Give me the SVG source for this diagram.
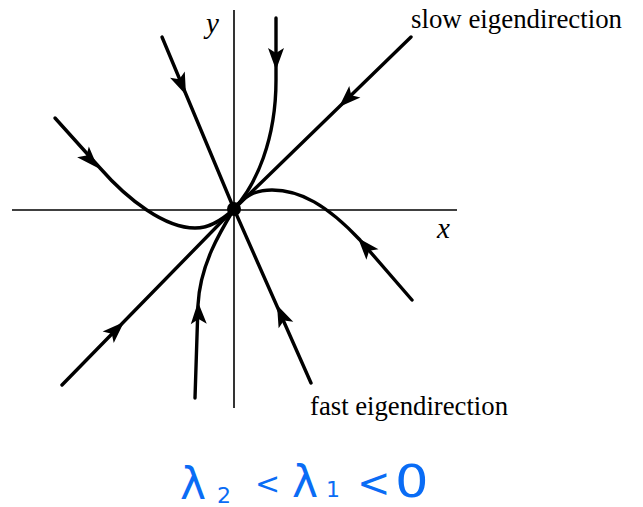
<svg xmlns="http://www.w3.org/2000/svg" width="643" height="507" viewBox="0 0 643 507">
<style>
.axis{stroke:#000;stroke-width:1.6;fill:none}
.traj{stroke:#000;stroke-width:3.4;fill:none;stroke-linecap:round;stroke-linejoin:round}
.lbl{font-family:"Liberation Serif","Times New Roman",serif;font-size:27px;fill:#000}
.var{font-family:"Liberation Serif","Times New Roman",serif;font-size:29px;font-style:italic;fill:#000}
.hand{font-family:"DejaVu Sans","Noto Sans",sans-serif;fill:#0a6cf5}
</style>
<defs>
<path id="ah" d="M0,0 L-22,-8 L-17,0 L-22,8 Z" fill="#000"/>
</defs>
<rect width="643" height="507" fill="#fff"/>
<g id="axes">
<line class="axis" x1="12" y1="210" x2="457" y2="210"/>
<line class="axis" x1="234" y1="10" x2="234" y2="408"/>
<text class="var" x="206" y="33">y</text>
<text class="var" x="437" y="238">x</text>
</g>
<g id="connectors">
<line class="traj" x1="411" y1="37" x2="234" y2="209"/>
<line class="traj" x1="62" y1="385" x2="234" y2="209"/>
<line class="traj" x1="162" y1="37" x2="234" y2="209"/>
<line class="traj" x1="311" y1="383" x2="234" y2="209"/>
<path class="traj" d="M55,118 L100,168 C128,200 165,228 195,228 C210,228 222,220 234,209"/>
<path class="traj" d="M276,18 L276,80 C276,140 256,185 234,209"/>
<path class="traj" d="M234,209 C244,196 255,190 272,190 C300,190 327,205 360,240 L412,300"/>
<path class="traj" d="M234,209 C220,232 200,265 198,305 L195,398"/>
<use href="#ah" transform="translate(98,168) rotate(47)"/>
<use href="#ah" transform="translate(186,95) rotate(67)"/>
<use href="#ah" transform="translate(276,70) rotate(90)"/>
<use href="#ah" transform="translate(339,107) rotate(136)"/>
<use href="#ah" transform="translate(358,238) rotate(-131)"/>
<use href="#ah" transform="translate(124,322) rotate(-44)"/>
<use href="#ah" transform="translate(198,302) rotate(-92)"/>
<use href="#ah" transform="translate(277,305) rotate(-114)"/>
</g>
<g id="origin">
<circle cx="234" cy="209" r="7" fill="#000"/>
</g>
<g id="slow-label">
<text class="lbl" x="411" y="28" textLength="211" lengthAdjust="spacingAndGlyphs">slow eigendirection</text>
</g>
<g id="fast-label">
<text class="lbl" x="310" y="415" textLength="198" lengthAdjust="spacingAndGlyphs">fast eigendirection</text>
</g>
<g id="condition">
<text class="hand" x="180" y="499" font-size="44">λ</text>
<text class="hand" x="217" y="503" font-size="22">2</text>
<text class="hand" x="255" y="494" font-size="30">&lt;</text>
<text class="hand" x="292" y="497" font-size="44">λ</text>
<text class="hand" x="326" y="497" font-size="22">1</text>
<text class="hand" x="357" y="497" font-size="40">&lt;</text>
<text class="hand" x="0" y="0" font-size="44" transform="translate(395,497) scale(1.2,1)">0</text>
</g>
</svg>
